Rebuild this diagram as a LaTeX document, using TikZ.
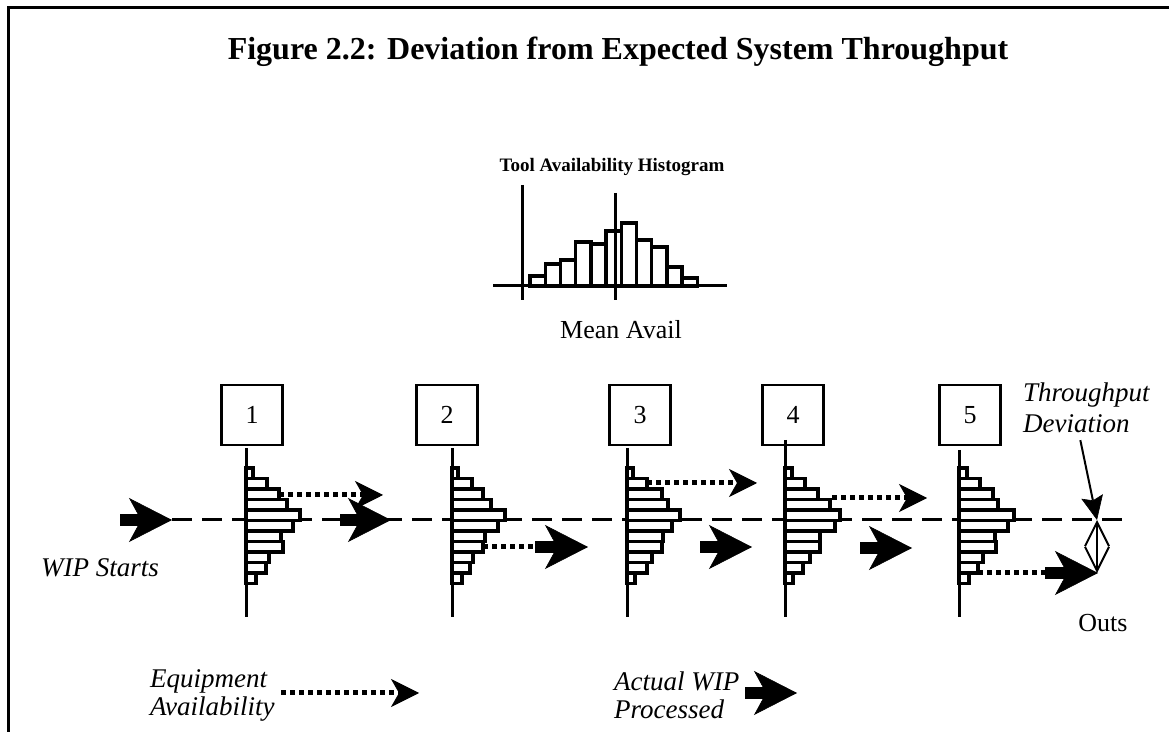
\documentclass[tikz,border=0pt]{standalone}
\usepackage{fontspec}
\setmainfont{Liberation Serif}
\usetikzlibrary{arrows.meta,positioning}

\tikzset{
  station/.style={draw,line width=1.3pt,minimum width=30.5pt,minimum height=30pt,inner sep=0pt,font=\fontsize{13}{15}\selectfont},
  axisline/.style={line width=1.5pt},
  histbar/.style={draw,fill=white,line width=1.7pt},
  centerline/.style={line width=1.5pt,dash pattern=on 10pt off 5pt},
  availtail/.style={line width=2.5pt,dash pattern=on 2.5pt off 2pt},
  avail/.style={availtail,-{Stealth[length=14pt,width=14pt,inset=4pt,line width=0.3pt]}},
  wip/.style={line width=6pt,-{Stealth[length=21.5pt,width=22pt,inset=6pt,line width=0.3pt]}},
  pointer/.style={line width=1pt,-{Stealth[length=12pt,width=11pt,inset=2pt,line width=0.3pt]}},
  devarrow/.style={line width=1pt,{Straight Barb[length=12pt,width=12pt]}-{Straight Barb[length=12pt,width=12pt]}},
  lbl/.style={font=\fontsize{13}{16}\selectfont},
  itlbl/.style={font=\fontsize{13.5}{14}\selectfont\itshape,align=left},
}
% one horizontal histogram hanging off a station axis
\newcommand{\stationhist}[2]{%
  \foreach \len [count=\i from 0] in {#2}
    \draw[histbar] (#1,468+10.5*\i) rectangle ++(\len,10.5);}

\begin{document}
\begin{tikzpicture}[x=0.5pt,y=-0.5pt]
  \useasboundingbox (0,0) rectangle (1169,732);
  \draw[line width=1.5pt] (8,745) -- (8,8) -- (1180,8);

  \node[font=\fontsize{16}{19}\selectfont\bfseries] (title) at (618,52)
    {Figure 2.2: Deviation from Expected System Throughput};

  % tool availability histogram
  \node[font=\fontsize{9.5}{11}\selectfont\bfseries] (histtitle) at (612,167) {Tool Availability Histogram};
  \foreach \h [count=\i from 0] in {10,22,26,44,42,55,63,46,39,19,8}
    \draw[histbar] (530+15.2*\i,286) rectangle ++(15.2,-\h);
  \draw[axisline] (493,286) -- (727,286);
  \draw[axisline] (522,185) -- (522,300);
  \draw[axisline] (615,193) -- (615,300);
  \node[lbl] (mean) at (621,330) {Mean Avail};

  % stations
  \node[station] (s1) at (252,415) {1};
  \node[station] (s2) at (447,415) {2};
  \node[station] (s3) at (640,415) {3};
  \node[station] (s4) at (793,415) {4};
  \node[station] (s5) at (970,415) {5};

  \draw[centerline] (172,520) -- (1125,520);

  \stationhist{246}{7,21,33,41,54,47,35,37,23,20,10}
  \stationhist{452}{6,20,31,39,53,46,33,31,21,18,10}
  \stationhist{627}{6,20,35,41,53,45,36,35,25,20,8}
  \stationhist{785}{7,20,33,45,55,50,35,35,25,18,8}
  \stationhist{959}{8,21,34,39,55,49,36,37,24,19,10}
  \foreach \x/\top in {246/448,452/448,627/448,785/440,959/450}
    \draw[axisline] (\x,\top) -- (\x,617);

  % equipment availability
  \draw[avail] (279,495) -- (383,495);
  \draw[availtail] (483,547) -- (537,547);
  \draw[avail] (647,483) -- (757,483);
  \draw[avail] (832,498) -- (927,498);
  \draw[availtail] (978,573) -- (1047,573);

  % actual WIP processed
  \draw[wip] (120,520) -- (172,520);
  \draw[wip] (340,520) -- (391,520);
  \draw[wip] (535,547) -- (588,547);
  \draw[wip] (700,547) -- (752,547);
  \draw[wip] (860,548) -- (912,548);
  \draw[wip] (1045,573) -- (1098,573);

  \node[itlbl] (wipstart) at (100,568) {WIP Starts};

  % throughput deviation
  \node[itlbl,anchor=north west,font=\fontsize{13.5}{15.5}\selectfont\itshape] (tdev) at (1016,376) {Throughput\\Deviation};
  \coordinate (devtop) at (1097,520);
  \coordinate (devbot) at (1097,573);
  \draw[pointer] ([xshift=-3pt]tdev.south) -- (devtop);
  \draw[devarrow] (devtop) -- (devbot);
  \node[lbl] (outs) at (1103,623) {Outs};

  % legend
  \node[itlbl,anchor=west] (equip) at (143,695) {Equipment\\Availability};
  \draw[avail] (281,693) -- (419,693);
  \node[itlbl,anchor=west] (actual) at (607,695) {Actual WIP\\Processed};
  \draw[wip] (745,693) -- (797,693);
\end{tikzpicture}
\end{document}
